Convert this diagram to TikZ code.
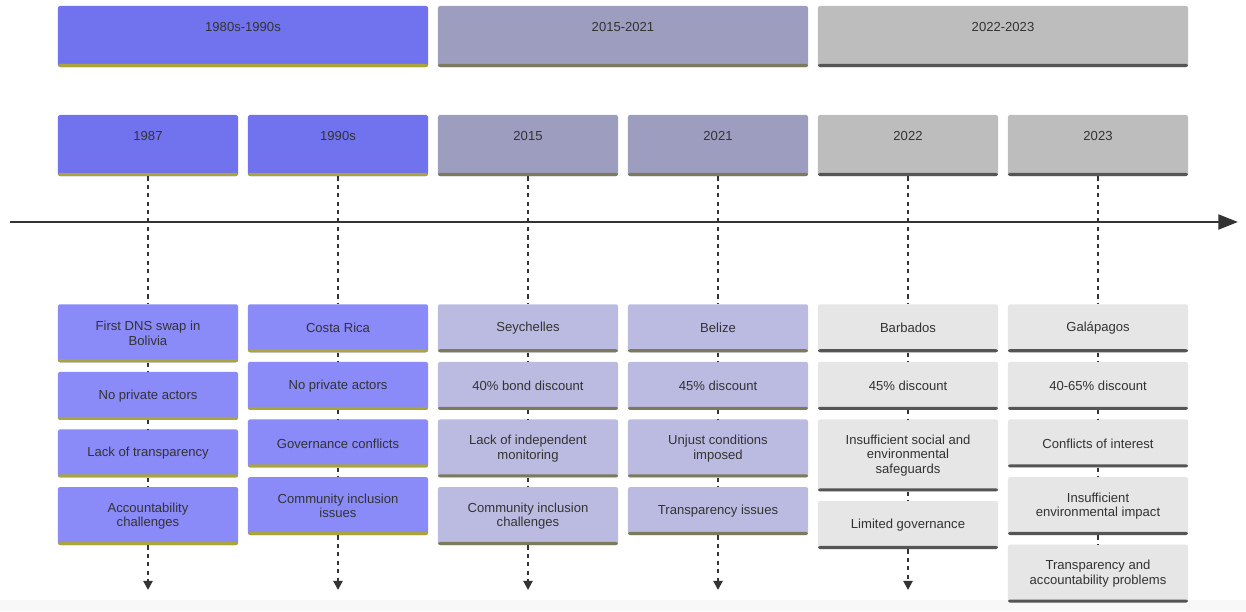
\documentclass[tikz,border=0pt]{standalone}
\usepackage{fontspec}
\setmainfont{Liberation Sans}
\usetikzlibrary{arrows.meta,positioning}
\definecolor{tlink}{HTML}{333333}
\definecolor{tlpurple}{HTML}{7173EE}
\definecolor{tlpurplelt}{HTML}{8A8AF9}
\definecolor{tlolive}{HTML}{A9A43C}
\definecolor{tlslate}{HTML}{9D9DC0}
\definecolor{tlslatelt}{HTML}{BBBBE2}
\definecolor{tldrab}{HTML}{7B7A5C}
\definecolor{tlgray}{HTML}{BDBDBD}
\definecolor{tlgraylt}{HTML}{E6E6E6}
\definecolor{tldark}{HTML}{555555}
\definecolor{tlstrip}{HTML}{F8F8F8}

\begin{document}
\begin{tikzpicture}[x=0.025cm,y=-0.025cm,
  box/.style={rectangle,rounded corners=1.5pt,inner sep=0pt,text=tlink,
    font=\fontsize{9.3}{10.2}\selectfont,align=center},
  bar/.style={path picture={\fill[#1] (path picture bounding box.south west)
    rectangle ([yshift=2.2pt]path picture bounding box.south east);}},
  period/.style={box,minimum width=9.25cm,text height=18.3pt,text depth=25.1pt},
  year/.style={period,minimum width=4.5cm},
  event/.style={box,minimum width=4.5cm,minimum height=1.2cm},
  tall/.style={minimum height=1.45cm},
  taller/.style={minimum height=1.8cm},
  grpA/.style={fill=tlpurple,bar=tlolive},
  grpB/.style={fill=tlslate,bar=tldrab},
  grpC/.style={fill=tlgray,bar=tldark},
  evA/.style={event,fill=tlpurplelt,bar=tlolive},
  evB/.style={event,fill=tlslatelt,bar=tldrab},
  evC/.style={event,fill=tlgraylt,bar=tldark},
  link/.style={tlink,line width=1.4pt,dash pattern=on 3pt off 3pt},
  linkend/.style={link,-{Triangle[width=6.5pt,length=6.5pt]}},
  axis/.style={tlink,line width=2.1pt,-{Triangle[width=10.5pt,length=14pt]}}
]
\useasboundingbox (0,0) rectangle (1246,611);
\fill[tlstrip] (0,600) rectangle (1246,611);

% Periods
\node[period,grpA] (pA) at (243,36.5) {1980s-1990s};
\node[period,grpB] (pB) at (623,36.5) {2015-2021};
\node[period,grpC] (pC) at (1003,36.5) {2022-2023};

% Years
\node[year,grpA] (y1987) at (148,145.5) {1987};
\node[year,grpA] (y1990s) at (338,145.5) {1990s};
\node[year,grpB] (y2015) at (528,145.5) {2015};
\node[year,grpB] (y2021) at (718,145.5) {2021};
\node[year,grpC] (y2022) at (908,145.5) {2022};
\node[year,grpC] (y2023) at (1098,145.5) {2023};

% 1987: Bolivia
\node[evA,tall,anchor=north] (bol1) at (148,304) {First DNS swap in\\Bolivia};
\node[evA,below=0.225cm of bol1] (bol2) {No private actors};
\node[evA,below=0.225cm of bol2] (bol3) {Lack of transparency};
\node[evA,tall,below=0.225cm of bol3] (bol4) {Accountability\\challenges};
\coordinate (bolend) at (148,590);

% 1990s: Costa Rica
\node[evA,anchor=north] (cr1) at (338,304) {Costa Rica};
\node[evA,below=0.225cm of cr1] (cr2) {No private actors};
\node[evA,below=0.225cm of cr2] (cr3) {Governance conflicts};
\node[evA,tall,below=0.225cm of cr3] (cr4) {Community inclusion\\issues};
\coordinate (crend) at (338,590);

% 2015: Seychelles
\node[evB,anchor=north] (sey1) at (528,304) {Seychelles};
\node[evB,below=0.225cm of sey1] (sey2) {40\% bond discount};
\node[evB,tall,below=0.225cm of sey2] (sey3) {Lack of independent\\monitoring};
\node[evB,tall,below=0.225cm of sey3] (sey4) {Community inclusion\\challenges};
\coordinate (seyend) at (528,590);

% 2021: Belize
\node[evB,anchor=north] (bel1) at (718,304) {Belize};
\node[evB,below=0.225cm of bel1] (bel2) {45\% discount};
\node[evB,tall,below=0.225cm of bel2] (bel3) {Unjust conditions\\imposed};
\node[evB,below=0.225cm of bel3] (bel4) {Transparency issues};
\coordinate (belend) at (718,590);

% 2022: Barbados
\node[evC,anchor=north] (bar1) at (908,304) {Barbados};
\node[evC,below=0.225cm of bar1] (bar2) {45\% discount};
\node[evC,taller,below=0.225cm of bar2] (bar3) {Insufficient social and\\environmental\\safeguards};
\node[evC,below=0.225cm of bar3] (bar4) {Limited governance};
\coordinate (barend) at (908,590);

% 2023: Galapagos
\node[evC,anchor=north] (gal1) at (1098,304) {Galápagos};
\node[evC,below=0.225cm of gal1] (gal2) {40-65\% discount};
\node[evC,below=0.225cm of gal2] (gal3) {Conflicts of interest};
\node[evC,tall,below=0.225cm of gal3] (gal4) {Insufficient\\environmental impact};
\node[evC,tall,below=0.225cm of gal4] (gal5) {Transparency and\\accountability problems};

% Dashed links
\draw[link] (y1987) -- (bol1);
\draw[link] (bol1) -- (bol2);
\draw[link] (bol2) -- (bol3);
\draw[link] (bol3) -- (bol4);
\draw[linkend] (bol4) -- (bolend);
\draw[link] (y1990s) -- (cr1);
\draw[link] (cr1) -- (cr2);
\draw[link] (cr2) -- (cr3);
\draw[link] (cr3) -- (cr4);
\draw[linkend] (cr4) -- (crend);
\draw[link] (y2015) -- (sey1);
\draw[link] (sey1) -- (sey2);
\draw[link] (sey2) -- (sey3);
\draw[link] (sey3) -- (sey4);
\draw[linkend] (sey4) -- (seyend);
\draw[link] (y2021) -- (bel1);
\draw[link] (bel1) -- (bel2);
\draw[link] (bel2) -- (bel3);
\draw[link] (bel3) -- (bel4);
\draw[linkend] (bel4) -- (belend);
\draw[link] (y2022) -- (bar1);
\draw[link] (bar1) -- (bar2);
\draw[link] (bar2) -- (bar3);
\draw[link] (bar3) -- (bar4);
\draw[linkend] (bar4) -- (barend);
\draw[link] (y2023) -- (gal1);
\draw[link] (gal1) -- (gal2);
\draw[link] (gal2) -- (gal3);
\draw[link] (gal3) -- (gal4);
\draw[link] (gal4) -- (gal5);

% Time axis
\coordinate (t0) at (10,222);
\coordinate (t1) at (1238,222);
\draw[axis] (t0) -- (t1);
\end{tikzpicture}
\end{document}
